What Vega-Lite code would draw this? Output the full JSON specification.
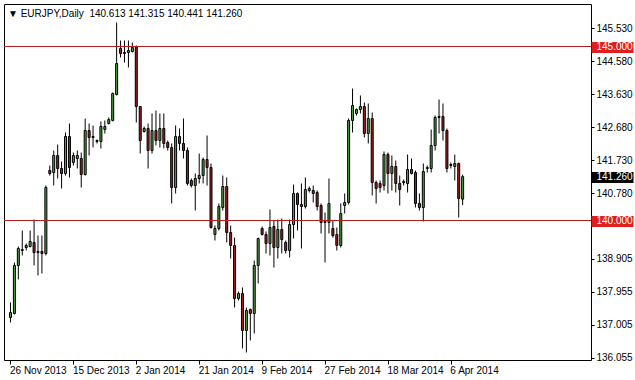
{
  "$schema": "https://vega.github.io/schema/vega-lite/v6.json",
  "width": 587,
  "height": 356,
  "autosize": {"type": "none"},
  "padding": {"left": 4, "top": 4, "right": 44, "bottom": 20},
  "background": "white",
  "config": {"view": {"stroke": "#000", "strokeWidth": 1}, "font": "Liberation Sans", "axisY": {"labelOverlap": false}, "axisX": {"labelOverlap": false}},
  "title": {
    "text": "\u25bc EURJPY,Daily\u00a0\u00a0140.613 141.315 140.441 141.260",
    "anchor": "start", "frame": "group", "orient": "top", "offset": -15, "dx": 4,
    "font": "Liberation Sans", "fontSize": 10, "fontWeight": "normal", "color": "#000"
  },
  "datasets": {
    "candles": [
      {"i":0,"d":"2013-11-26","o":137.213,"h":137.644,"l":137.069,"c":137.356},
      {"i":1,"d":"2013-11-27","o":137.328,"h":138.793,"l":137.299,"c":138.707},
      {"i":2,"d":"2013-11-28","o":138.707,"h":139.253,"l":138.305,"c":139.195},
      {"i":3,"d":"2013-11-29","o":139.138,"h":139.713,"l":138.994,"c":139.167},
      {"i":4,"d":"2013-12-01","o":139.224,"h":139.339,"l":139.138,"c":139.282},
      {"i":5,"d":"2013-12-02","o":139.253,"h":139.713,"l":139.224,"c":139.397},
      {"i":6,"d":"2013-12-03","o":139.368,"h":140.029,"l":138.707,"c":139.080},
      {"i":7,"d":"2013-12-04","o":139.109,"h":139.569,"l":138.420,"c":139.080},
      {"i":8,"d":"2013-12-05","o":139.109,"h":139.569,"l":138.477,"c":139.052},
      {"i":9,"d":"2013-12-06","o":139.052,"h":141.006,"l":138.994,"c":140.948},
      {"i":10,"d":"2013-12-08","o":141.437,"h":141.580,"l":141.293,"c":141.351},
      {"i":11,"d":"2013-12-09","o":141.379,"h":142.011,"l":141.006,"c":141.868},
      {"i":12,"d":"2013-12-10","o":141.868,"h":142.184,"l":141.207,"c":141.494},
      {"i":13,"d":"2013-12-11","o":141.494,"h":141.695,"l":140.920,"c":141.351},
      {"i":14,"d":"2013-12-12","o":141.351,"h":142.529,"l":141.293,"c":142.414},
      {"i":15,"d":"2013-12-13","o":142.414,"h":142.787,"l":141.236,"c":141.523},
      {"i":16,"d":"2013-12-15","o":141.667,"h":141.954,"l":141.580,"c":141.868},
      {"i":17,"d":"2013-12-16","o":141.782,"h":142.011,"l":141.494,"c":141.868},
      {"i":18,"d":"2013-12-17","o":141.782,"h":141.954,"l":140.948,"c":141.322},
      {"i":19,"d":"2013-12-18","o":141.322,"h":142.931,"l":141.293,"c":142.586},
      {"i":20,"d":"2013-12-19","o":142.586,"h":142.787,"l":141.868,"c":142.385},
      {"i":21,"d":"2013-12-20","o":142.414,"h":142.730,"l":142.098,"c":142.385},
      {"i":22,"d":"2013-12-22","o":142.270,"h":142.328,"l":142.213,"c":142.299},
      {"i":23,"d":"2013-12-23","o":142.270,"h":142.845,"l":142.069,"c":142.701},
      {"i":24,"d":"2013-12-24","o":142.615,"h":142.874,"l":142.500,"c":142.701},
      {"i":25,"d":"2013-12-25","o":142.787,"h":142.960,"l":142.759,"c":142.902},
      {"i":26,"d":"2013-12-26","o":142.874,"h":143.678,"l":142.845,"c":143.649},
      {"i":27,"d":"2013-12-27","o":143.621,"h":145.690,"l":143.592,"c":144.511},
      {"i":28,"d":"2013-12-29","o":144.943,"h":145.172,"l":144.684,"c":144.799},
      {"i":29,"d":"2013-12-30","o":144.828,"h":145.172,"l":144.540,"c":144.799},
      {"i":30,"d":"2013-12-31","o":144.828,"h":145.172,"l":144.397,"c":144.885},
      {"i":31,"d":"2014-01-01","o":144.856,"h":145.115,"l":144.828,"c":144.971},
      {"i":32,"d":"2014-01-02","o":145.000,"h":145.029,"l":142.816,"c":143.276},
      {"i":33,"d":"2014-01-03","o":143.276,"h":143.290,"l":141.925,"c":142.299},
      {"i":34,"d":"2014-01-05","o":142.557,"h":142.701,"l":142.529,"c":142.644},
      {"i":35,"d":"2014-01-06","o":142.644,"h":142.787,"l":141.494,"c":142.011},
      {"i":36,"d":"2014-01-07","o":142.011,"h":143.075,"l":141.925,"c":142.586},
      {"i":37,"d":"2014-01-08","o":142.586,"h":143.161,"l":142.155,"c":142.299},
      {"i":38,"d":"2014-01-09","o":142.299,"h":143.075,"l":142.098,"c":142.644},
      {"i":39,"d":"2014-01-10","o":142.644,"h":143.075,"l":142.069,"c":142.213},
      {"i":40,"d":"2014-01-12","o":142.241,"h":142.299,"l":142.011,"c":142.098},
      {"i":41,"d":"2014-01-13","o":142.098,"h":142.213,"l":140.489,"c":140.948},
      {"i":42,"d":"2014-01-14","o":140.948,"h":142.730,"l":140.776,"c":142.414},
      {"i":43,"d":"2014-01-15","o":142.414,"h":142.644,"l":142.011,"c":142.213},
      {"i":44,"d":"2014-01-16","o":142.213,"h":142.931,"l":141.782,"c":142.011},
      {"i":45,"d":"2014-01-17","o":142.011,"h":142.098,"l":141.006,"c":141.063},
      {"i":46,"d":"2014-01-19","o":141.149,"h":141.207,"l":140.948,"c":141.006},
      {"i":47,"d":"2014-01-20","o":141.006,"h":141.351,"l":140.287,"c":141.207},
      {"i":48,"d":"2014-01-21","o":141.207,"h":141.925,"l":141.063,"c":141.293},
      {"i":49,"d":"2014-01-22","o":141.293,"h":141.810,"l":141.063,"c":141.753},
      {"i":50,"d":"2014-01-23","o":141.753,"h":142.443,"l":141.006,"c":141.523},
      {"i":51,"d":"2014-01-24","o":141.523,"h":141.638,"l":139.770,"c":139.799},
      {"i":52,"d":"2014-01-26","o":139.598,"h":139.856,"l":139.425,"c":139.770},
      {"i":53,"d":"2014-01-27","o":139.770,"h":140.489,"l":139.713,"c":140.402},
      {"i":54,"d":"2014-01-28","o":140.374,"h":141.293,"l":140.287,"c":140.977},
      {"i":55,"d":"2014-01-29","o":140.977,"h":141.236,"l":139.368,"c":139.655},
      {"i":56,"d":"2014-01-30","o":139.655,"h":139.856,"l":138.908,"c":139.282},
      {"i":57,"d":"2014-01-31","o":139.282,"h":139.511,"l":137.500,"c":137.759},
      {"i":58,"d":"2014-02-02","o":137.759,"h":137.960,"l":137.701,"c":137.902},
      {"i":59,"d":"2014-02-03","o":137.902,"h":138.075,"l":136.322,"c":136.839},
      {"i":60,"d":"2014-02-04","o":136.839,"h":137.500,"l":136.207,"c":137.414},
      {"i":61,"d":"2014-02-05","o":137.443,"h":137.471,"l":136.552,"c":137.328},
      {"i":62,"d":"2014-02-06","o":137.328,"h":138.851,"l":136.753,"c":138.707},
      {"i":63,"d":"2014-02-07","o":138.707,"h":139.511,"l":138.190,"c":139.483},
      {"i":64,"d":"2014-02-09","o":139.770,"h":139.828,"l":139.569,"c":139.598},
      {"i":65,"d":"2014-02-10","o":139.598,"h":139.684,"l":139.052,"c":139.339},
      {"i":66,"d":"2014-02-11","o":139.339,"h":140.316,"l":138.994,"c":139.799},
      {"i":67,"d":"2014-02-12","o":139.828,"h":140.000,"l":138.649,"c":139.224},
      {"i":68,"d":"2014-02-13","o":139.224,"h":140.029,"l":138.908,"c":139.741},
      {"i":69,"d":"2014-02-14","o":139.741,"h":140.057,"l":139.052,"c":139.454},
      {"i":70,"d":"2014-02-16","o":139.368,"h":139.425,"l":139.052,"c":139.138},
      {"i":71,"d":"2014-02-17","o":139.138,"h":140.029,"l":138.937,"c":139.885},
      {"i":72,"d":"2014-02-18","o":139.885,"h":141.034,"l":139.483,"c":140.776},
      {"i":73,"d":"2014-02-19","o":140.776,"h":140.805,"l":139.713,"c":140.460},
      {"i":74,"d":"2014-02-20","o":140.460,"h":141.063,"l":139.195,"c":140.402},
      {"i":75,"d":"2014-02-21","o":140.402,"h":141.236,"l":140.345,"c":140.891},
      {"i":76,"d":"2014-02-23","o":140.862,"h":140.977,"l":140.805,"c":140.920},
      {"i":77,"d":"2014-02-24","o":140.862,"h":141.006,"l":140.517,"c":140.776},
      {"i":78,"d":"2014-02-25","o":140.805,"h":140.862,"l":140.287,"c":140.402},
      {"i":79,"d":"2014-02-26","o":140.431,"h":140.489,"l":139.626,"c":139.943},
      {"i":80,"d":"2014-02-27","o":139.971,"h":140.230,"l":138.793,"c":139.943},
      {"i":81,"d":"2014-02-28","o":139.943,"h":141.207,"l":139.626,"c":140.489},
      {"i":82,"d":"2014-03-02","o":139.770,"h":140.000,"l":139.511,"c":139.569},
      {"i":83,"d":"2014-03-03","o":139.598,"h":139.799,"l":139.138,"c":139.282},
      {"i":84,"d":"2014-03-04","o":139.282,"h":140.489,"l":139.224,"c":140.201},
      {"i":85,"d":"2014-03-05","o":140.431,"h":140.776,"l":140.201,"c":140.517},
      {"i":86,"d":"2014-03-06","o":140.517,"h":142.931,"l":140.460,"c":142.874},
      {"i":87,"d":"2014-03-07","o":142.874,"h":143.793,"l":142.529,"c":143.305},
      {"i":88,"d":"2014-03-09","o":143.075,"h":143.218,"l":143.017,"c":143.190},
      {"i":89,"d":"2014-03-10","o":143.190,"h":143.592,"l":143.075,"c":143.276},
      {"i":90,"d":"2014-03-11","o":143.276,"h":143.391,"l":142.385,"c":142.500},
      {"i":91,"d":"2014-03-12","o":142.500,"h":143.362,"l":142.213,"c":142.931},
      {"i":92,"d":"2014-03-13","o":142.931,"h":143.103,"l":140.718,"c":141.092},
      {"i":93,"d":"2014-03-14","o":141.092,"h":141.149,"l":140.489,"c":140.920},
      {"i":94,"d":"2014-03-16","o":141.063,"h":141.149,"l":140.805,"c":140.948},
      {"i":95,"d":"2014-03-17","o":141.006,"h":141.983,"l":140.862,"c":141.897},
      {"i":96,"d":"2014-03-18","o":141.897,"h":141.954,"l":140.776,"c":141.351},
      {"i":97,"d":"2014-03-19","o":141.351,"h":141.868,"l":140.862,"c":141.552},
      {"i":98,"d":"2014-03-20","o":141.552,"h":141.724,"l":140.805,"c":141.063},
      {"i":99,"d":"2014-03-21","o":141.063,"h":141.293,"l":140.431,"c":140.891},
      {"i":100,"d":"2014-03-23","o":141.092,"h":141.178,"l":141.006,"c":141.121},
      {"i":101,"d":"2014-03-24","o":141.063,"h":141.897,"l":140.805,"c":141.466},
      {"i":102,"d":"2014-03-25","o":141.466,"h":141.782,"l":141.322,"c":141.351},
      {"i":103,"d":"2014-03-26","o":141.379,"h":141.437,"l":140.374,"c":140.489},
      {"i":104,"d":"2014-03-27","o":140.489,"h":140.776,"l":140.287,"c":140.374},
      {"i":105,"d":"2014-03-28","o":140.374,"h":141.638,"l":139.971,"c":141.408},
      {"i":106,"d":"2014-03-30","o":141.494,"h":141.580,"l":141.379,"c":141.523},
      {"i":107,"d":"2014-03-31","o":141.494,"h":142.615,"l":141.379,"c":142.155},
      {"i":108,"d":"2014-04-01","o":142.155,"h":143.017,"l":142.011,"c":142.960},
      {"i":109,"d":"2014-04-02","o":142.960,"h":143.477,"l":142.500,"c":142.989},
      {"i":110,"d":"2014-04-03","o":142.989,"h":143.362,"l":142.299,"c":142.586},
      {"i":111,"d":"2014-04-04","o":142.586,"h":142.644,"l":141.379,"c":141.494},
      {"i":112,"d":"2014-04-06","o":141.580,"h":141.667,"l":141.494,"c":141.609},
      {"i":113,"d":"2014-04-07","o":141.552,"h":141.897,"l":141.149,"c":141.638},
      {"i":114,"d":"2014-04-08","o":141.638,"h":141.667,"l":140.086,"c":140.632},
      {"i":115,"d":"2014-04-09","o":140.613,"h":141.315,"l":140.441,"c":141.260}
    ],
    "levels": [{"lvl": 145.0}, {"lvl": 140.0}]
  },
  "layer": [
    {
      "data": {"name": "candles"},
      "mark": {"type": "rule", "color": "#000", "strokeWidth": 1},
      "encoding": {
        "x": {
          "field": "i", "type": "quantitative",
          "scale": {"domain": [-0.375, 146.375], "nice": false, "zero": false},
          "axis": {
            "title": null, "orient": "bottom", "grid": false, "domain": false,
            "values": [0, 16, 32, 48, 64, 80, 96, 112], "tickCount": 40,
            "labelExpr": "['26 Nov 2013','15 Dec 2013','2 Jan 2014','21 Jan 2014','9 Feb 2014','27 Feb 2014','18 Mar 2014','6 Apr 2014'][round(datum.value/16)]",
            "tickSize": 4, "tickColor": "#000", "tickWidth": 1,
            "labelAlign": "left", "labelBaseline": "top", "labelPadding": 1, "labelOffset": -1,
            "labelFont": "Liberation Sans", "labelFontSize": 10, "labelColor": "#000",
            "labelFlush": false, "labelOverlap": false, "labelBound": false
          }
        },
        "y": {
          "field": "l", "type": "quantitative",
          "scale": {"domain": [135.9914, 146.2213], "nice": false, "zero": false},
          "axis": {
            "title": null, "orient": "right", "grid": false, "domain": false,
            "values": [136.055, 137.005, 137.955, 138.905, 140, 140.78, 141.26, 141.73, 142.68, 143.63, 144.58, 145, 145.53],
            "tickCount": 40,
            "format": ".3f",
            "tickColor": {"condition": {"test": "datum.value == 145 || datum.value == 140", "value": "#e01e1e"}, "value": "#000"},
            "tickSize": {"condition": {"test": "datum.value == 145 || datum.value == 140 || datum.value == 141.26", "value": 42}, "value": 3},
            "tickWidth": {"condition": {"test": "datum.value == 145 || datum.value == 140 || datum.value == 141.26", "value": 11}, "value": 1},
            "labelColor": {"condition": {"test": "datum.value == 145 || datum.value == 140 || datum.value == 141.26", "value": "#fff"}, "value": "#000"},
            "labelPadding": {"condition": {"test": "datum.value == 145 || datum.value == 140 || datum.value == 141.26", "value": -37}, "value": 2},
            "labelAlign": "left", "labelBaseline": "middle",
            "labelFont": "Liberation Sans", "labelFontSize": 10,
            "labelOverlap": false, "labelFlush": false, "labelBound": false
          }
        },
        "y2": {"field": "h"}
      }
    },
    {
      "data": {"name": "candles"},
      "mark": {"type": "bar", "orient": "vertical", "width": 2, "stroke": "#000", "strokeWidth": 1},
      "encoding": {
        "x": {"field": "i", "type": "quantitative", "title": null},
        "y": {"field": "o", "type": "quantitative", "title": null},
        "y2": {"field": "c"},
        "fill": {"condition": {"test": "datum.c >= datum.o", "value": "#52a245"}, "value": "#a32020"}
      }
    },
    {
      "data": {"name": "levels"},
      "mark": {"type": "rule", "color": "#b41e1e", "strokeWidth": 1},
      "encoding": {
        "y": {"field": "lvl", "type": "quantitative", "title": null}
      }
    }
  ]
}
